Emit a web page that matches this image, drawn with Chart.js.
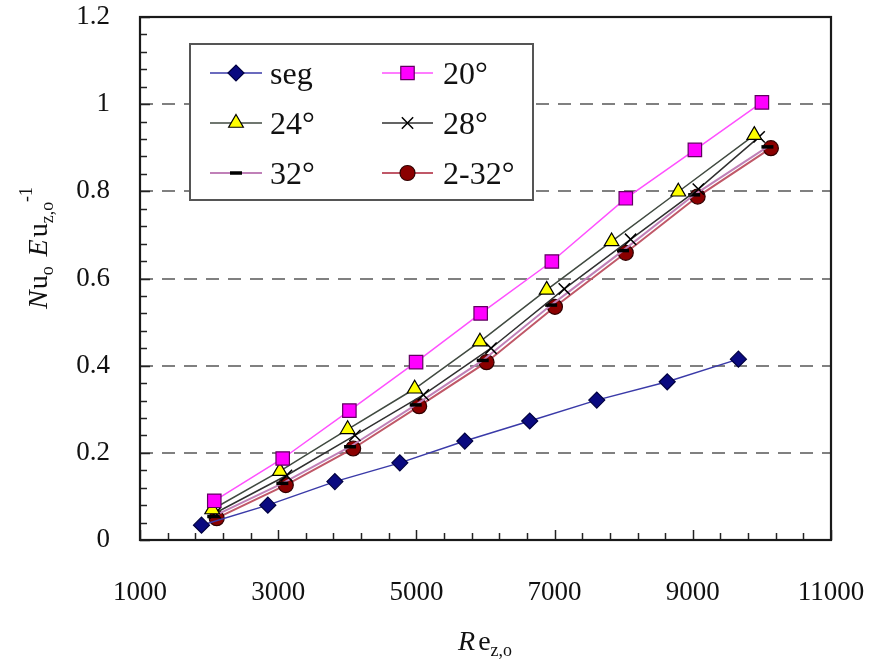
<!DOCTYPE html>
<html><head><meta charset="utf-8">
<script src="https://cdn.jsdelivr.net/npm/chart.js@4/dist/chart.umd.min.js"></script>
<style>html,body{margin:0;padding:0;background:#fff;}canvas{display:block;}</style>
</head><body>
<canvas id="c" width="879" height="669"></canvas>
<script>
// ---- data ----
const seriesNames = ['seg', '20°', '24°', '28°', '32°', '2-32°'];

const segRe = [1890, 2850, 3820, 4760, 5700, 6640, 7610, 8630, 9660];
const segY  = [0.034, 0.080, 0.134, 0.177, 0.227, 0.273, 0.321, 0.363, 0.415];

const re20 = [2075, 3065, 4030, 4995, 5930, 6960, 8030, 9030, 10000];
const y20  = [0.090, 0.187, 0.297, 0.408, 0.520, 0.639, 0.784, 0.895, 1.004];

const re24 = [2045, 3025, 4005, 4975, 5920, 6885, 7825, 8790, 9890];
const y24  = [0.070, 0.158, 0.254, 0.347, 0.455, 0.574, 0.685, 0.799, 0.929];

const re28 = [2090, 3120, 4110, 5100, 6080, 7140, 8100, 9080, 9960];
const y28  = [0.062, 0.148, 0.240, 0.333, 0.440, 0.576, 0.690, 0.805, 0.925];

const re32 = [2060, 3060, 4040, 4990, 5960, 6950, 7990, 9020, 10080];
const y32  = [0.054, 0.130, 0.214, 0.310, 0.412, 0.539, 0.664, 0.792, 0.902];

const re232 = [2110, 3110, 4085, 5040, 6015, 7005, 8030, 9070, 10130];
const y232  = [0.050, 0.126, 0.210, 0.307, 0.408, 0.535, 0.659, 0.788, 0.899];

const xTicks = [1000, 3000, 5000, 7000, 9000, 11000];
const yTicks = [0, 0.2, 0.4, 0.6, 0.8, 1.0, 1.2];

// ---- helpers ----
const pts = (xs, ys) => xs.map((v, i) => ({x: v, y: ys[i]}));
const SERIF = '"Liberation Serif", "Times New Roman", serif';

function ds(label, xs, ys, line, style) {
  return Object.assign({
    label, data: pts(xs, ys), borderColor: line, borderWidth: 1.5,
    showLine: true, tension: 0, pointBorderWidth: 1.2, pointBorderColor: '#000'
  }, style);
}

const datasets = [
  ds(seriesNames[0], segRe, segY, '#3a3aa8', {pointStyle: 'rectRot', pointRadius: 8, pointBackgroundColor: '#0a0a80', pointBorderColor: '#000040'}),
  ds(seriesNames[1], re20, y20, '#ff50ff', {pointStyle: 'rect', pointRadius: 9.5, pointBackgroundColor: '#ff00ff', pointBorderColor: '#600060'}),
  ds(seriesNames[2], re24, y24, '#404a40', {pointStyle: 'triangle', pointRadius: 8.5, pointBackgroundColor: '#ffff00', pointBorderColor: '#000'}),
  ds(seriesNames[3], re28, y28, '#303030', {pointStyle: 'crossRot', pointRadius: 8, pointBackgroundColor: '#000', pointBorderColor: '#000', pointBorderWidth: 1.5}),
  ds(seriesNames[4], re32, y32, '#c080b8', {pointStyle: 'line', pointRadius: 6, pointBackgroundColor: '#000', pointBorderColor: '#000', pointBorderWidth: 3.5, borderWidth: 2}),
  ds(seriesNames[5], re232, y232, '#c05868', {pointStyle: 'circle', pointRadius: 7.5, pointBackgroundColor: '#8b0000', pointBorderColor: '#300000', borderWidth: 2})
];

// rich text drawing (italic / subscript / superscript pieces)
function richWidth(ctx, parts, size) {
  let w = 0;
  for (const p of parts) {
    const s = (p.sub || p.sup) ? size * 0.64 : size;
    ctx.font = (p.it ? 'italic ' : '') + s + 'px ' + SERIF;
    w += ctx.measureText(p.t).width + (p.gap || 0);
  }
  return w;
}
function drawRich(ctx, parts, cx, baseY, size) {
  const total = richWidth(ctx, parts, size);
  let x = cx - total / 2;
  ctx.textAlign = 'left'; ctx.textBaseline = 'alphabetic'; ctx.fillStyle = '#111';
  for (const p of parts) {
    const s = (p.sub || p.sup) ? size * 0.64 : size;
    ctx.font = (p.it ? 'italic ' : '') + s + 'px ' + SERIF;
    const dy = p.sub ? size * 0.22 : (p.sup ? -size * 0.55 : 0);
    ctx.fillText(p.t, x, baseY + dy);
    x += ctx.measureText(p.t).width + (p.gap || 0);
  }
}

const decor = {
  id: 'decor',
  beforeDatasetsDraw(chart) {
    const {ctx, chartArea: a, scales: {y}} = chart;
    ctx.save();
    ctx.strokeStyle = '#808080'; ctx.lineWidth = 2; ctx.setLineDash([13, 9]);
    yTicks.filter(v => v > 0 && v < 1.2).forEach(v => {
      const py = Math.round(y.getPixelForValue(v));
      ctx.beginPath(); ctx.moveTo(a.left, py); ctx.lineTo(a.right, py); ctx.stroke();
    });
    ctx.restore();
  },
  afterDatasetsDraw(chart) {
    const {ctx, chartArea: a, scales: {x, y}} = chart;
    ctx.save();
    // inward ticks
    ctx.strokeStyle = '#222'; ctx.lineWidth = 1.5;
    for (let v = 1000; v <= 11000; v += 400) {
      const px = Math.round(x.getPixelForValue(v)) + 0.5;
      const len = ((v - 1000) % 2000 === 0) ? 10 : 7;
      ctx.beginPath(); ctx.moveTo(px, a.bottom); ctx.lineTo(px, a.bottom - len); ctx.stroke();
    }
    for (let k = 0; k <= 30; k++) {
      const py = Math.round(y.getPixelForValue(k * 0.04)) + 0.5;
      const len = (k % 5 === 0) ? 10 : 7;
      ctx.beginPath(); ctx.moveTo(a.left, py); ctx.lineTo(a.left + len, py); ctx.stroke();
    }
    // frame
    ctx.strokeStyle = '#1a1a1a'; ctx.lineWidth = 2.2;
    ctx.strokeRect(a.left, a.top, a.right - a.left, a.bottom - a.top);

    // legend box
    const L = {x: 190, y: 44, w: 343, h: 156};
    ctx.fillStyle = '#fff'; ctx.fillRect(L.x, L.y, L.w, L.h);
    ctx.strokeStyle = '#555'; ctx.lineWidth = 2;
    ctx.strokeRect(L.x, L.y, L.w, L.h);
    const colLine = [[210, 262], [382, 433]];
    const colText = [270, 443];
    const rowY = [73, 123, 173];
    chart.data.datasets.forEach((d, i) => {
      const c = i % 2, r = Math.floor(i / 2);
      const yy = rowY[r];
      ctx.setLineDash([]);
      ctx.strokeStyle = d.borderColor; ctx.lineWidth = d.borderWidth;
      ctx.beginPath(); ctx.moveTo(colLine[c][0], yy); ctx.lineTo(colLine[c][1], yy); ctx.stroke();
      ctx.fillStyle = d.pointBackgroundColor; ctx.strokeStyle = d.pointBorderColor;
      ctx.lineWidth = d.pointBorderWidth;
      Chart.helpers.drawPoint(ctx, {pointStyle: d.pointStyle, radius: d.pointRadius, rotation: 0, borderWidth: d.pointBorderWidth},
        (colLine[c][0] + colLine[c][1]) / 2, yy);
      ctx.fillStyle = '#111'; ctx.font = '32px ' + SERIF;
      ctx.textAlign = 'left'; ctx.textBaseline = 'alphabetic';
      ctx.fillText(d.label, colText[c], yy + 11);
    });

    // axis titles
    drawRich(ctx, [{t: 'R', it: true, gap: 3}, {t: 'e'}, {t: 'z,o', sub: true}], 485, 650, 28);
    ctx.translate(47, 248);
    ctx.rotate(-Math.PI / 2);
    drawRich(ctx, [{t: 'N', it: true, gap: 1}, {t: 'u'}, {t: 'o', sub: true, gap: 10},
                   {t: 'E', it: true, gap: 2}, {t: 'u'}, {t: 'z,o', sub: true}, {t: '-1', sup: true}], 0, 0, 28);
    ctx.restore();
  }
};

new Chart(document.getElementById('c'), {
  type: 'scatter',
  data: {datasets},
  plugins: [decor],
  options: {
    responsive: false, animation: false, devicePixelRatio: 1,
    layout: {padding: {top: 17, right: 48, left: 0, bottom: 0}},
    plugins: {legend: {display: false}, tooltip: {enabled: false}},
    scales: {
      x: {
        type: 'linear', min: 1000, max: 11000,
        afterBuildTicks: s => { s.ticks = xTicks.map(v => ({value: v})); },
        afterFit: s => { s.height = 129; s.paddingLeft = 0; s.paddingRight = 0; },
        grid: {display: false, drawTicks: false}, border: {display: false},
        ticks: {padding: 37, color: '#111', font: {family: SERIF, size: 27}, maxRotation: 0,
                callback: v => String(v)}
      },
      y: {
        type: 'linear', min: 0, max: 1.2,
        afterBuildTicks: s => { s.ticks = yTicks.map(v => ({value: v})); },
        afterFit: s => { s.width = 140; s.paddingTop = 0; s.paddingBottom = 0; },
        grid: {display: false, drawTicks: false}, border: {display: false},
        ticks: {padding: 30, color: '#111', font: {family: SERIF, size: 27},
                callback: v => String(Math.round(v * 10) / 10)}
      }
    }
  }
});
</script>
</body></html>
